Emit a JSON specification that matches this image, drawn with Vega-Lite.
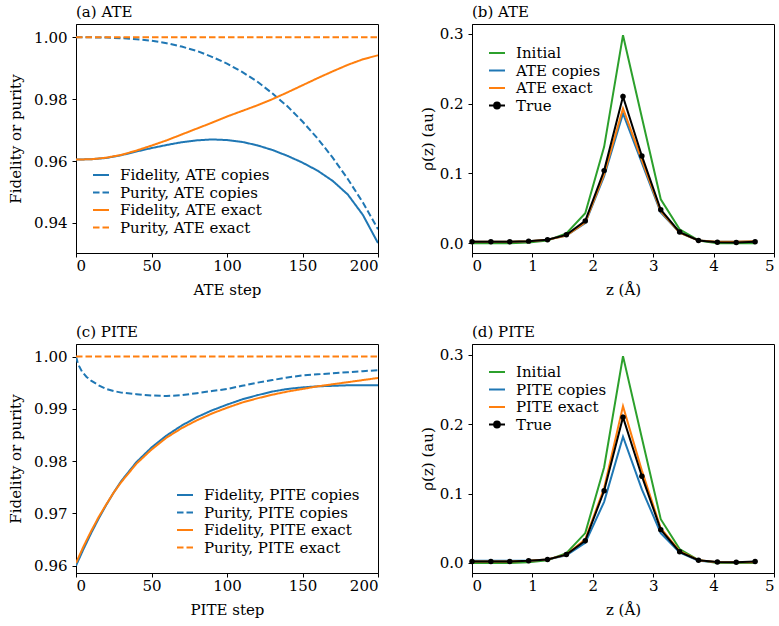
{
  "$schema": "https://vega.github.io/schema/vega-lite/v6.json",
  "padding": {"left": 8, "top": 4, "right": 3, "bottom": 5},
  "background": "white",
  "config": {
    "font": "DejaVu Serif",
    "view": {"stroke": "black", "strokeWidth": 1},
    "axis": {"grid": false, "domainColor": "black", "tickColor": "black", "labelColor": "black", "titleColor": "black", "labelFontSize": 15, "titleFontSize": 15, "titleFontWeight": "normal", "tickSize": 4, "labelPadding": 5, "labelFont": "DejaVu Serif", "titleFont": "DejaVu Serif"},
    "axisX": {"titlePadding": 9, "labelPadding": 1},
    "axisY": {"titlePadding": 8},
    "legend": {"labelFontSize": 15, "labelFont": "DejaVu Serif", "labelColor": "black", "symbolType": "stroke", "symbolSize": 256, "symbolStrokeWidth": 2, "rowPadding": 0.5, "padding": 0, "labelOffset": 10},
    "title": {"fontSize": 15, "fontWeight": "normal", "font": "DejaVu Serif", "anchor": "start", "frame": "group", "offset": 4, "color": "black"}
  },
  "datasets": {
    "ate": [
      {"s":0,"v":0.9605,"k":"Fidelity, ATE copies"},{"s":10,"v":0.9606,"k":"Fidelity, ATE copies"},{"s":20,"v":0.9610,"k":"Fidelity, ATE copies"},{"s":30,"v":0.9619,"k":"Fidelity, ATE copies"},{"s":40,"v":0.9631,"k":"Fidelity, ATE copies"},{"s":50,"v":0.9642,"k":"Fidelity, ATE copies"},{"s":60,"v":0.9652,"k":"Fidelity, ATE copies"},{"s":70,"v":0.9661,"k":"Fidelity, ATE copies"},{"s":80,"v":0.9667,"k":"Fidelity, ATE copies"},{"s":90,"v":0.9670,"k":"Fidelity, ATE copies"},{"s":100,"v":0.9668,"k":"Fidelity, ATE copies"},{"s":110,"v":0.9662,"k":"Fidelity, ATE copies"},{"s":120,"v":0.9651,"k":"Fidelity, ATE copies"},{"s":130,"v":0.9636,"k":"Fidelity, ATE copies"},{"s":140,"v":0.9617,"k":"Fidelity, ATE copies"},{"s":150,"v":0.9595,"k":"Fidelity, ATE copies"},{"s":160,"v":0.9569,"k":"Fidelity, ATE copies"},{"s":170,"v":0.9536,"k":"Fidelity, ATE copies"},{"s":180,"v":0.9492,"k":"Fidelity, ATE copies"},{"s":190,"v":0.9426,"k":"Fidelity, ATE copies"},{"s":200,"v":0.9335,"k":"Fidelity, ATE copies"},
      {"s":0,"v":1.0,"k":"Purity, ATE copies"},{"s":10,"v":1.0,"k":"Purity, ATE copies"},{"s":20,"v":0.9999,"k":"Purity, ATE copies"},{"s":30,"v":0.9997,"k":"Purity, ATE copies"},{"s":40,"v":0.9994,"k":"Purity, ATE copies"},{"s":50,"v":0.9989,"k":"Purity, ATE copies"},{"s":60,"v":0.9981,"k":"Purity, ATE copies"},{"s":70,"v":0.9970,"k":"Purity, ATE copies"},{"s":80,"v":0.9956,"k":"Purity, ATE copies"},{"s":90,"v":0.9937,"k":"Purity, ATE copies"},{"s":100,"v":0.9915,"k":"Purity, ATE copies"},{"s":110,"v":0.9888,"k":"Purity, ATE copies"},{"s":120,"v":0.9857,"k":"Purity, ATE copies"},{"s":130,"v":0.9819,"k":"Purity, ATE copies"},{"s":140,"v":0.9777,"k":"Purity, ATE copies"},{"s":150,"v":0.9728,"k":"Purity, ATE copies"},{"s":160,"v":0.9673,"k":"Purity, ATE copies"},{"s":170,"v":0.9611,"k":"Purity, ATE copies"},{"s":180,"v":0.9542,"k":"Purity, ATE copies"},{"s":190,"v":0.9466,"k":"Purity, ATE copies"},{"s":200,"v":0.9380,"k":"Purity, ATE copies"},
      {"s":0,"v":0.9605,"k":"Fidelity, ATE exact"},{"s":10,"v":0.9606,"k":"Fidelity, ATE exact"},{"s":20,"v":0.9611,"k":"Fidelity, ATE exact"},{"s":30,"v":0.9620,"k":"Fidelity, ATE exact"},{"s":40,"v":0.9634,"k":"Fidelity, ATE exact"},{"s":50,"v":0.9650,"k":"Fidelity, ATE exact"},{"s":60,"v":0.9667,"k":"Fidelity, ATE exact"},{"s":70,"v":0.9686,"k":"Fidelity, ATE exact"},{"s":80,"v":0.9705,"k":"Fidelity, ATE exact"},{"s":90,"v":0.9724,"k":"Fidelity, ATE exact"},{"s":100,"v":0.9744,"k":"Fidelity, ATE exact"},{"s":110,"v":0.9762,"k":"Fidelity, ATE exact"},{"s":120,"v":0.9780,"k":"Fidelity, ATE exact"},{"s":130,"v":0.9800,"k":"Fidelity, ATE exact"},{"s":140,"v":0.9822,"k":"Fidelity, ATE exact"},{"s":150,"v":0.9845,"k":"Fidelity, ATE exact"},{"s":160,"v":0.9868,"k":"Fidelity, ATE exact"},{"s":170,"v":0.9890,"k":"Fidelity, ATE exact"},{"s":180,"v":0.9911,"k":"Fidelity, ATE exact"},{"s":190,"v":0.9929,"k":"Fidelity, ATE exact"},{"s":200,"v":0.9942,"k":"Fidelity, ATE exact"},
      {"s":0,"v":1.0,"k":"Purity, ATE exact"},{"s":100,"v":1.0,"k":"Purity, ATE exact"},{"s":200,"v":1.0,"k":"Purity, ATE exact"}
    ],
    "pite": [
      {"s":0,"v":0.9600,"k":"Fidelity, PITE copies"},{"s":5,"v":0.9632,"k":"Fidelity, PITE copies"},{"s":10,"v":0.9662,"k":"Fidelity, PITE copies"},{"s":15,"v":0.9690,"k":"Fidelity, PITE copies"},{"s":20,"v":0.9716,"k":"Fidelity, PITE copies"},{"s":25,"v":0.9740,"k":"Fidelity, PITE copies"},{"s":30,"v":0.9762,"k":"Fidelity, PITE copies"},{"s":40,"v":0.9798,"k":"Fidelity, PITE copies"},{"s":50,"v":0.9826,"k":"Fidelity, PITE copies"},{"s":60,"v":0.9849,"k":"Fidelity, PITE copies"},{"s":70,"v":0.9868,"k":"Fidelity, PITE copies"},{"s":80,"v":0.9884,"k":"Fidelity, PITE copies"},{"s":90,"v":0.9897,"k":"Fidelity, PITE copies"},{"s":100,"v":0.9908,"k":"Fidelity, PITE copies"},{"s":110,"v":0.9918,"k":"Fidelity, PITE copies"},{"s":120,"v":0.9926,"k":"Fidelity, PITE copies"},{"s":130,"v":0.9933,"k":"Fidelity, PITE copies"},{"s":140,"v":0.9938,"k":"Fidelity, PITE copies"},{"s":150,"v":0.9941,"k":"Fidelity, PITE copies"},{"s":160,"v":0.9943,"k":"Fidelity, PITE copies"},{"s":170,"v":0.9944,"k":"Fidelity, PITE copies"},{"s":180,"v":0.9945,"k":"Fidelity, PITE copies"},{"s":190,"v":0.9945,"k":"Fidelity, PITE copies"},{"s":200,"v":0.9945,"k":"Fidelity, PITE copies"},
      {"s":0,"v":1.0,"k":"Purity, PITE copies"},{"s":1,"v":0.9990,"k":"Purity, PITE copies"},{"s":2,"v":0.9982,"k":"Purity, PITE copies"},{"s":4,"v":0.9971,"k":"Purity, PITE copies"},{"s":7,"v":0.9961,"k":"Purity, PITE copies"},{"s":10,"v":0.9954,"k":"Purity, PITE copies"},{"s":15,"v":0.9945,"k":"Purity, PITE copies"},{"s":20,"v":0.9938,"k":"Purity, PITE copies"},{"s":25,"v":0.9934,"k":"Purity, PITE copies"},{"s":30,"v":0.9931,"k":"Purity, PITE copies"},{"s":40,"v":0.9928,"k":"Purity, PITE copies"},{"s":50,"v":0.99255,"k":"Purity, PITE copies"},{"s":60,"v":0.99245,"k":"Purity, PITE copies"},{"s":70,"v":0.9926,"k":"Purity, PITE copies"},{"s":80,"v":0.9930,"k":"Purity, PITE copies"},{"s":90,"v":0.9934,"k":"Purity, PITE copies"},{"s":100,"v":0.9938,"k":"Purity, PITE copies"},{"s":110,"v":0.9944,"k":"Purity, PITE copies"},{"s":120,"v":0.9950,"k":"Purity, PITE copies"},{"s":130,"v":0.9955,"k":"Purity, PITE copies"},{"s":140,"v":0.9960,"k":"Purity, PITE copies"},{"s":150,"v":0.9964,"k":"Purity, PITE copies"},{"s":160,"v":0.9966,"k":"Purity, PITE copies"},{"s":170,"v":0.9968,"k":"Purity, PITE copies"},{"s":180,"v":0.9970,"k":"Purity, PITE copies"},{"s":190,"v":0.9972,"k":"Purity, PITE copies"},{"s":200,"v":0.9974,"k":"Purity, PITE copies"},
      {"s":0,"v":0.9605,"k":"Fidelity, PITE exact"},{"s":5,"v":0.9637,"k":"Fidelity, PITE exact"},{"s":10,"v":0.9666,"k":"Fidelity, PITE exact"},{"s":15,"v":0.9693,"k":"Fidelity, PITE exact"},{"s":20,"v":0.9717,"k":"Fidelity, PITE exact"},{"s":25,"v":0.9740,"k":"Fidelity, PITE exact"},{"s":30,"v":0.9760,"k":"Fidelity, PITE exact"},{"s":40,"v":0.9795,"k":"Fidelity, PITE exact"},{"s":50,"v":0.9822,"k":"Fidelity, PITE exact"},{"s":60,"v":0.9845,"k":"Fidelity, PITE exact"},{"s":70,"v":0.9863,"k":"Fidelity, PITE exact"},{"s":80,"v":0.9878,"k":"Fidelity, PITE exact"},{"s":90,"v":0.9891,"k":"Fidelity, PITE exact"},{"s":100,"v":0.9902,"k":"Fidelity, PITE exact"},{"s":110,"v":0.9912,"k":"Fidelity, PITE exact"},{"s":120,"v":0.9920,"k":"Fidelity, PITE exact"},{"s":130,"v":0.9927,"k":"Fidelity, PITE exact"},{"s":140,"v":0.9933,"k":"Fidelity, PITE exact"},{"s":150,"v":0.9938,"k":"Fidelity, PITE exact"},{"s":160,"v":0.9943,"k":"Fidelity, PITE exact"},{"s":170,"v":0.9947,"k":"Fidelity, PITE exact"},{"s":180,"v":0.9951,"k":"Fidelity, PITE exact"},{"s":190,"v":0.9955,"k":"Fidelity, PITE exact"},{"s":200,"v":0.9959,"k":"Fidelity, PITE exact"},
      {"s":0,"v":1.0,"k":"Purity, PITE exact"},{"s":100,"v":1.0,"k":"Purity, PITE exact"},{"s":200,"v":1.0,"k":"Purity, PITE exact"}
    ],
    "rhoA": [
      {"z":0,"r":0.000,"k":"Initial"},{"z":0.3125,"r":0.000,"k":"Initial"},{"z":0.625,"r":0.000,"k":"Initial"},{"z":0.9375,"r":0.001,"k":"Initial"},{"z":1.25,"r":0.004,"k":"Initial"},{"z":1.5625,"r":0.014,"k":"Initial"},{"z":1.875,"r":0.043,"k":"Initial"},{"z":2.1875,"r":0.138,"k":"Initial"},{"z":2.5,"r":0.298,"k":"Initial"},{"z":2.8125,"r":0.180,"k":"Initial"},{"z":3.125,"r":0.063,"k":"Initial"},{"z":3.4375,"r":0.020,"k":"Initial"},{"z":3.75,"r":0.004,"k":"Initial"},{"z":4.0625,"r":0.000,"k":"Initial"},{"z":4.375,"r":0.000,"k":"Initial"},{"z":4.6875,"r":0.000,"k":"Initial"},
      {"z":0,"r":0.002,"k":"ATE copies"},{"z":0.3125,"r":0.002,"k":"ATE copies"},{"z":0.625,"r":0.002,"k":"ATE copies"},{"z":0.9375,"r":0.003,"k":"ATE copies"},{"z":1.25,"r":0.005,"k":"ATE copies"},{"z":1.5625,"r":0.011,"k":"ATE copies"},{"z":1.875,"r":0.029,"k":"ATE copies"},{"z":2.1875,"r":0.096,"k":"ATE copies"},{"z":2.5,"r":0.186,"k":"ATE copies"},{"z":2.8125,"r":0.115,"k":"ATE copies"},{"z":3.125,"r":0.044,"k":"ATE copies"},{"z":3.4375,"r":0.015,"k":"ATE copies"},{"z":3.75,"r":0.004,"k":"ATE copies"},{"z":4.0625,"r":0.002,"k":"ATE copies"},{"z":4.375,"r":0.002,"k":"ATE copies"},{"z":4.6875,"r":0.003,"k":"ATE copies"},
      {"z":0,"r":0.002,"k":"ATE exact"},{"z":0.3125,"r":0.002,"k":"ATE exact"},{"z":0.625,"r":0.002,"k":"ATE exact"},{"z":0.9375,"r":0.003,"k":"ATE exact"},{"z":1.25,"r":0.005,"k":"ATE exact"},{"z":1.5625,"r":0.011,"k":"ATE exact"},{"z":1.875,"r":0.030,"k":"ATE exact"},{"z":2.1875,"r":0.099,"k":"ATE exact"},{"z":2.5,"r":0.193,"k":"ATE exact"},{"z":2.8125,"r":0.119,"k":"ATE exact"},{"z":3.125,"r":0.046,"k":"ATE exact"},{"z":3.4375,"r":0.015,"k":"ATE exact"},{"z":3.75,"r":0.004,"k":"ATE exact"},{"z":4.0625,"r":0.002,"k":"ATE exact"},{"z":4.375,"r":0.002,"k":"ATE exact"},{"z":4.6875,"r":0.003,"k":"ATE exact"},
      {"z":0,"r":0.002,"k":"True"},{"z":0.3125,"r":0.002,"k":"True"},{"z":0.625,"r":0.002,"k":"True"},{"z":0.9375,"r":0.003,"k":"True"},{"z":1.25,"r":0.005,"k":"True"},{"z":1.5625,"r":0.012,"k":"True"},{"z":1.875,"r":0.032,"k":"True"},{"z":2.1875,"r":0.104,"k":"True"},{"z":2.5,"r":0.210,"k":"True"},{"z":2.8125,"r":0.125,"k":"True"},{"z":3.125,"r":0.048,"k":"True"},{"z":3.4375,"r":0.016,"k":"True"},{"z":3.75,"r":0.004,"k":"True"},{"z":4.0625,"r":0.0015,"k":"True"},{"z":4.375,"r":0.001,"k":"True"},{"z":4.6875,"r":0.002,"k":"True"}
    ],
    "rhoP": [
      {"z":0,"r":0.000,"k":"Initial"},{"z":0.3125,"r":0.000,"k":"Initial"},{"z":0.625,"r":0.000,"k":"Initial"},{"z":0.9375,"r":0.001,"k":"Initial"},{"z":1.25,"r":0.004,"k":"Initial"},{"z":1.5625,"r":0.014,"k":"Initial"},{"z":1.875,"r":0.043,"k":"Initial"},{"z":2.1875,"r":0.138,"k":"Initial"},{"z":2.5,"r":0.298,"k":"Initial"},{"z":2.8125,"r":0.180,"k":"Initial"},{"z":3.125,"r":0.063,"k":"Initial"},{"z":3.4375,"r":0.020,"k":"Initial"},{"z":3.75,"r":0.004,"k":"Initial"},{"z":4.0625,"r":0.000,"k":"Initial"},{"z":4.375,"r":0.000,"k":"Initial"},{"z":4.6875,"r":0.000,"k":"Initial"},
      {"z":0,"r":0.003,"k":"PITE copies"},{"z":0.3125,"r":0.003,"k":"PITE copies"},{"z":0.625,"r":0.003,"k":"PITE copies"},{"z":0.9375,"r":0.003,"k":"PITE copies"},{"z":1.25,"r":0.005,"k":"PITE copies"},{"z":1.5625,"r":0.011,"k":"PITE copies"},{"z":1.875,"r":0.029,"k":"PITE copies"},{"z":2.1875,"r":0.088,"k":"PITE copies"},{"z":2.5,"r":0.182,"k":"PITE copies"},{"z":2.8125,"r":0.106,"k":"PITE copies"},{"z":3.125,"r":0.043,"k":"PITE copies"},{"z":3.4375,"r":0.015,"k":"PITE copies"},{"z":3.75,"r":0.003,"k":"PITE copies"},{"z":4.0625,"r":0.001,"k":"PITE copies"},{"z":4.375,"r":0.001,"k":"PITE copies"},{"z":4.6875,"r":0.001,"k":"PITE copies"},
      {"z":0,"r":0.002,"k":"PITE exact"},{"z":0.3125,"r":0.002,"k":"PITE exact"},{"z":0.625,"r":0.002,"k":"PITE exact"},{"z":0.9375,"r":0.003,"k":"PITE exact"},{"z":1.25,"r":0.005,"k":"PITE exact"},{"z":1.5625,"r":0.012,"k":"PITE exact"},{"z":1.875,"r":0.034,"k":"PITE exact"},{"z":2.1875,"r":0.108,"k":"PITE exact"},{"z":2.5,"r":0.226,"k":"PITE exact"},{"z":2.8125,"r":0.133,"k":"PITE exact"},{"z":3.125,"r":0.050,"k":"PITE exact"},{"z":3.4375,"r":0.017,"k":"PITE exact"},{"z":3.75,"r":0.004,"k":"PITE exact"},{"z":4.0625,"r":0.001,"k":"PITE exact"},{"z":4.375,"r":0.001,"k":"PITE exact"},{"z":4.6875,"r":0.001,"k":"PITE exact"},
      {"z":0,"r":0.002,"k":"True"},{"z":0.3125,"r":0.002,"k":"True"},{"z":0.625,"r":0.002,"k":"True"},{"z":0.9375,"r":0.003,"k":"True"},{"z":1.25,"r":0.005,"k":"True"},{"z":1.5625,"r":0.012,"k":"True"},{"z":1.875,"r":0.032,"k":"True"},{"z":2.1875,"r":0.104,"k":"True"},{"z":2.5,"r":0.210,"k":"True"},{"z":2.8125,"r":0.125,"k":"True"},{"z":3.125,"r":0.048,"k":"True"},{"z":3.4375,"r":0.016,"k":"True"},{"z":3.75,"r":0.004,"k":"True"},{"z":4.0625,"r":0.0015,"k":"True"},{"z":4.375,"r":0.001,"k":"True"},{"z":4.6875,"r":0.002,"k":"True"}
    ]
  },
  "resolve": {
    "scale": {"color": "independent", "strokeDash": "independent", "x": "independent", "y": "independent"},
    "legend": {"color": "independent", "strokeDash": "independent"}
  },
  "columns": 2,
  "spacing": {"row": 91, "column": 94},
  "bounds": "flush",
  "concat": [
    {
      "width": 302, "height": 229,
      "title": "(a) ATE",
      "data": {"name": "ate"},
      "mark": {"type": "line", "strokeWidth": 2, "clip": true},
      "encoding": {
        "x": {"field": "s", "type": "quantitative", "scale": {"domain": [0, 200], "nice": false}, "axis": {"title": "ATE step", "values": [0, 50, 100, 150, 200]}},
        "y": {"field": "v", "type": "quantitative", "scale": {"domain": [0.9303, 1.0043], "nice": false, "zero": false}, "axis": {"title": "Fidelity or purity", "values": [0.94, 0.96, 0.98, 1.0], "format": ".2f", "titlePadding": 10}},
        "color": {"field": "k", "type": "nominal", "scale": {"domain": ["Fidelity, ATE copies", "Purity, ATE copies", "Fidelity, ATE exact", "Purity, ATE exact"], "range": ["#1f77b4", "#1f77b4", "#ff7f0e", "#ff7f0e"]}, "legend": {"orient": "none", "legendX": 16, "legendY": 142, "title": null}},
        "strokeDash": {"field": "k", "type": "nominal", "scale": {"domain": ["Fidelity, ATE copies", "Purity, ATE copies", "Fidelity, ATE exact", "Purity, ATE exact"], "range": [[1, 0], [6.5, 3], [1, 0], [6.5, 3]]}, "legend": {"orient": "none", "legendX": 16, "legendY": 142, "title": null}}
      }
    },
    {
      "width": 302, "height": 229,
      "title": "(b) ATE",
      "data": {"name": "rhoA"},
      "encoding": {
        "x": {"field": "z", "type": "quantitative", "scale": {"domain": [0, 5], "nice": false}, "axis": {"title": "z (Å)", "values": [0, 1, 2, 3, 4, 5]}},
        "y": {"field": "r", "type": "quantitative", "scale": {"domain": [-0.014, 0.314], "nice": false, "zero": false}, "axis": {"title": "ρ(z) (au)", "values": [0, 0.1, 0.2, 0.3], "format": ".1f", "titlePadding": 4}}
      },
      "layer": [
        {
          "mark": {"type": "line", "strokeWidth": 2, "clip": true},
          "encoding": {
            "color": {"field": "k", "type": "nominal", "scale": {"domain": ["Initial", "ATE copies", "ATE exact", "True"], "range": ["#2ca02c", "#1f77b4", "#ff7f0e", "black"]},
              "legend": {"orient": "none", "legendX": 16, "legendY": 20, "title": null,
                "encode": {"symbols": {"update": {"shape": {"signal": "datum.value === 'True' ? 'M-1,0H1M0.36,0A0.36,0.36,0,1,1,-0.36,0A0.36,0.36,0,1,1,0.36,0Z' : 'stroke'"}, "fill": {"signal": "datum.value === 'True' ? 'black' : 'transparent'"}}}}}}
          }
        },
        {
          "transform": [{"filter": "datum.k === 'True'"}],
          "mark": {"type": "point", "filled": true, "color": "black", "size": 30, "opacity": 1}
        }
      ]
    },
    {
      "width": 302, "height": 229,
      "title": "(c) PITE",
      "data": {"name": "pite"},
      "mark": {"type": "line", "strokeWidth": 2, "clip": true},
      "encoding": {
        "x": {"field": "s", "type": "quantitative", "scale": {"domain": [0, 200], "nice": false}, "axis": {"title": "PITE step", "values": [0, 50, 100, 150, 200]}},
        "y": {"field": "v", "type": "quantitative", "scale": {"domain": [0.9586, 1.0024], "nice": false, "zero": false}, "axis": {"title": "Fidelity or purity", "values": [0.96, 0.97, 0.98, 0.99, 1.0], "format": ".2f", "titlePadding": 10}},
        "color": {"field": "k", "type": "nominal", "scale": {"domain": ["Fidelity, PITE copies", "Purity, PITE copies", "Fidelity, PITE exact", "Purity, PITE exact"], "range": ["#1f77b4", "#1f77b4", "#ff7f0e", "#ff7f0e"]}, "legend": {"orient": "none", "legendX": 100, "legendY": 142, "title": null}},
        "strokeDash": {"field": "k", "type": "nominal", "scale": {"domain": ["Fidelity, PITE copies", "Purity, PITE copies", "Fidelity, PITE exact", "Purity, PITE exact"], "range": [[1, 0], [6.5, 3], [1, 0], [6.5, 3]]}, "legend": {"orient": "none", "legendX": 100, "legendY": 142, "title": null}}
      }
    },
    {
      "width": 302, "height": 229,
      "title": "(d) PITE",
      "data": {"name": "rhoP"},
      "encoding": {
        "x": {"field": "z", "type": "quantitative", "scale": {"domain": [0, 5], "nice": false}, "axis": {"title": "z (Å)", "values": [0, 1, 2, 3, 4, 5]}},
        "y": {"field": "r", "type": "quantitative", "scale": {"domain": [-0.0145, 0.3155], "nice": false, "zero": false}, "axis": {"title": "ρ(z) (au)", "values": [0, 0.1, 0.2, 0.3], "format": ".1f", "titlePadding": 4}}
      },
      "layer": [
        {
          "mark": {"type": "line", "strokeWidth": 2, "clip": true},
          "encoding": {
            "color": {"field": "k", "type": "nominal", "scale": {"domain": ["Initial", "PITE copies", "PITE exact", "True"], "range": ["#2ca02c", "#1f77b4", "#ff7f0e", "black"]},
              "legend": {"orient": "none", "legendX": 16, "legendY": 19, "title": null,
                "encode": {"symbols": {"update": {"shape": {"signal": "datum.value === 'True' ? 'M-1,0H1M0.36,0A0.36,0.36,0,1,1,-0.36,0A0.36,0.36,0,1,1,0.36,0Z' : 'stroke'"}, "fill": {"signal": "datum.value === 'True' ? 'black' : 'transparent'"}}}}}}
          }
        },
        {
          "transform": [{"filter": "datum.k === 'True'"}],
          "mark": {"type": "point", "filled": true, "color": "black", "size": 30, "opacity": 1}
        }
      ]
    }
  ]
}
